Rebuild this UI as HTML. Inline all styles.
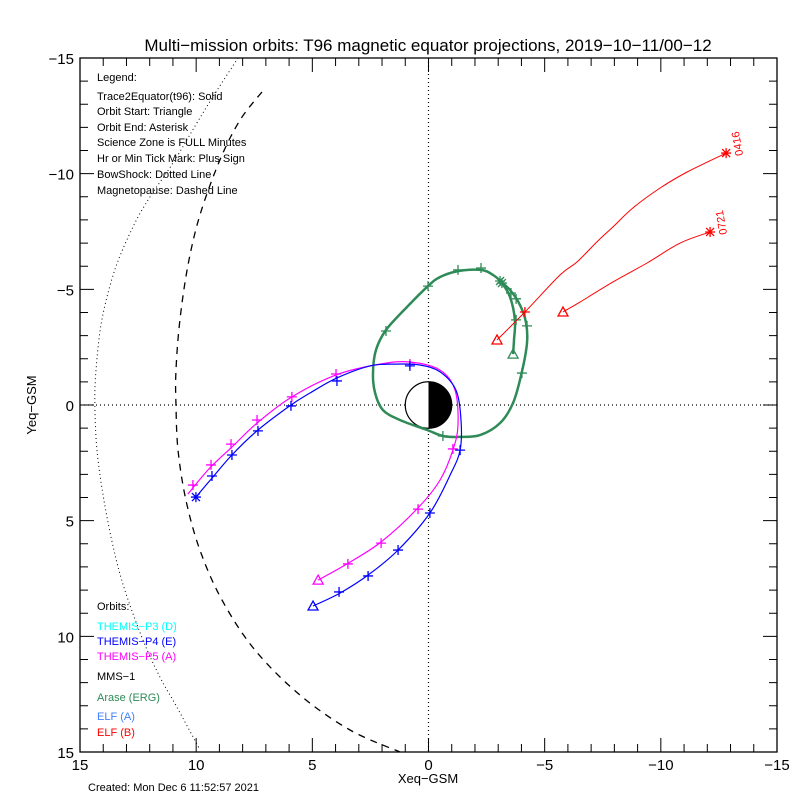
<!DOCTYPE html>
<html><head><meta charset="utf-8"><style>
body{margin:0;background:#fff}
svg text{font-family:"Liberation Sans",sans-serif}
</style></head><body>
<svg id="c" width="800" height="800" viewBox="0 0 800 800" xmlns="http://www.w3.org/2000/svg">
<rect width="800" height="800" fill="#fff"/>
<text x="428" y="51" font-size="17" text-anchor="middle">Multi−mission orbits: T96 magnetic equator projections, 2019−10−11/00−12</text>
<text x="428" y="783" font-size="13" text-anchor="middle">Xeq−GSM</text>
<text x="36" y="405" font-size="13" text-anchor="middle" transform="rotate(-90 36 405)">Yeq−GSM</text>
<text x="88" y="791" font-size="11">Created: Mon Dec  6 11:52:57 2021</text>
<g id="axes"></g>
<g id="marks"></g>
<g font-size="11">
<text x="97" y="81">Legend:</text>
<text x="97" y="100">Trace2Equator(t96): Solid</text>
<text x="97" y="115">Orbit Start: Triangle</text>
<text x="97" y="131">Orbit End: Asterisk</text>
<text x="97" y="146">Science Zone is FULL Minutes</text>
<text x="97" y="162">Hr or Min Tick Mark: Plus Sign</text>
<text x="97" y="178">BowShock: Dotted Line</text>
<text x="97" y="194">Magnetopause: Dashed Line</text>
</g>
<g font-size="11">
<text x="97" y="610">Orbits:</text>
<text x="97" y="630" fill="#00ffff">THEMIS−P3 (D)</text>
<text x="97" y="645" fill="#0000ff">THEMIS−P4 (E)</text>
<text x="97" y="660" fill="#ff00ff">THEMIS−P5 (A)</text>
<text x="97" y="680" fill="#000">MMS−1</text>
<text x="97" y="701" fill="#2e8b57">Arase (ERG)</text>
<text x="97" y="720" fill="#4080ff">ELF (A)</text>
<text x="97" y="736" fill="#ff0000">ELF (B)</text>
</g>
</svg>
<script>
const xTicks=[15,10,5,0,-5,-10,-15];
const yTicks=[-15,-10,-5,0,5,10,15];
const bowX=[8.20,9.28,9.97,11.0,11.99,12.72,13.50,14.06,14.31,14.36,14.27,13.97,13.54,13.07,12.29,11.56,10.83,9.84];
const bowY=[-15.0,-13.32,-12.19,-10.46,-8.99,-7.70,-5.84,-3.67,-1.51,0,1.95,4.11,6.27,8.0,10.16,11.76,13.06,14.9];
const mpX=[7.17,8.11,8.98,9.84,10.35,10.70,10.87,10.87,10.78,10.44,9.84,8.89,7.47,5.53,3.38,1.23];
const mpY=[-13.53,-12.32,-10.59,-8.21,-6.05,-3.67,-1.51,0,1.95,4.11,6.27,8.43,10.59,12.54,14.05,15.0];
const p4X=[4.97,3.81,2.60,1.31,-0.06,-0.93,-1.36,-1.40,-1.18,-0.50,0.37,1.44,2.52,3.94,5.10,5.92,7.34,8.46,9.32,10.01];
const p4Y=[8.69,8.13,7.35,6.27,4.67,3.03,1.95,0.65,-0.65,-1.43,-1.73,-1.77,-1.69,-1.17,-0.52,0,1.08,2.16,3.16,3.98];
const p4TX=[3.85,2.60,1.31,-0.06,-1.36,0.80,3.94,5.92,7.34,8.46,9.32];
const p4TY=[8.08,7.39,6.27,4.67,1.95,-1.69,-1.04,0.04,1.12,2.16,3.07];
const p5X=[4.75,3.51,2.04,0.45,-0.50,-1.05,-1.27,-1.14,-0.50,0.80,2.09,3.98,5.96,7.47,8.46,9.41,10.36];
const p5Y=[7.57,6.87,5.92,4.45,3.24,1.95,0.86,-0.65,-1.51,-1.86,-1.77,-1.30,-0.30,0.86,1.82,2.72,3.85];
const p5TX=[3.47,2.04,0.45,-1.05,0.80,3.98,5.88,7.38,8.50,9.36,10.14];
const p5TY=[6.87,5.97,4.50,1.90,-1.77,-1.34,-0.35,0.65,1.69,2.59,3.46];
const erX=[-3.64,-3.68,-3.72,-3.51,-3.16,-2.78,-2.26,-1.27,-0.49,0.02,0.92,1.83,2.26,2.39,2.30,1.96,1.23,0.06,-0.62,-1.36,-2.22,-3.08,-3.64,-4.02,-4.24,-4.20,-3.94,-3.51,-3.08];
const erY=[-2.20,-2.81,-3.67,-4.67,-5.27,-5.62,-5.84,-5.79,-5.53,-5.14,-4.24,-3.24,-2.38,-1.38,-0.52,0.22,0.65,1.08,1.34,1.38,1.30,0.78,-0.09,-1.43,-2.68,-3.55,-4.32,-4.97,-5.36];
const erTX=[-1.27,-2.26,0.02,1.83,-0.62,-3.77,-3.77,-4.24,-4.02,-3.55];
const erTY=[-5.84,-5.92,-5.14,-3.20,1.34,-4.59,-3.68,-3.42,-1.38,-4.84];
const eb1X=[-2.95,-4.15,-5.66,-6.39,-7.25,-7.94,-8.80,-9.97,-11.13,-12.81];
const eb1Y=[-2.81,-4.02,-5.62,-6.18,-7.05,-7.70,-8.52,-9.38,-10.07,-10.89];
const eb2X=[-5.79,-6.52,-7.94,-9.41,-10.83,-12.12];
const eb2Y=[-4.02,-4.45,-5.32,-6.14,-7.00,-7.48];
const ebTX=[-4.15];const ebTY=[-4.02];
const ebLabels=["0416","0721"];

const L=80,R=777,T=58,B=752;
const sx=v=>L+(15-v)*(R-L)/30;
const sy=v=>T+(v+15)*(B-T)/30;
const NS="http://www.w3.org/2000/svg";
function mk(tag,attrs,parent){const e=document.createElementNS(NS,tag);for(const k in attrs)e.setAttribute(k,attrs[k]);parent.appendChild(e);return e;}
const ax=document.getElementById('axes'),mg=document.getElementById('marks');
let r=mk('rect',{x:L,y:T,width:R-L,height:B-T,fill:'none',stroke:'#000','stroke-width':1.3},ax);


for(let v=-15;v<=15;v++){
  const len=(v%5===0)?14:8;
  let t=mk('path',{d:`M${sx(v)},${B}V${B-len}M${sx(v)},${T}V${T+len}M${L},${sy(v)}H${L+len}M${R},${sy(v)}H${R-len}`,stroke:'#000','stroke-width':1},ax);
  
  
}
xTicks.forEach(v=>{let t=mk('text',{x:sx(v),y:B+18,'font-size':15,'text-anchor':'middle'},ax);t.textContent=v<0?'−'+(-v):String(v);
  
  });
yTicks.forEach(v=>{let t=mk('text',{x:L-6,y:sy(v)+6,'font-size':15,'text-anchor':'end'},ax);t.textContent=v<0?'−'+(-v):String(v);
  
  });
let z=mk('path',{d:`M${sx(0)},${T}V${B}M${L},${sy(0)}H${R}`,stroke:'#000','stroke-dasharray':'1 3','stroke-width':1.2},mg);


function smooth(xs,ys){
  const P=xs.map((x,i)=>[sx(x),sy(ys[i])]);
  let d='M'+P[0][0].toFixed(1)+','+P[0][1].toFixed(1);
  for(let i=0;i<P.length-1;i++){
    const p0=P[Math.max(0,i-1)],p1=P[i],p2=P[i+1],p3=P[Math.min(P.length-1,i+2)];
    const c1=[p1[0]+(p2[0]-p0[0])/6,p1[1]+(p2[1]-p0[1])/6];
    const c2=[p2[0]-(p3[0]-p1[0])/6,p2[1]-(p3[1]-p1[1])/6];
    d+=`C${c1[0].toFixed(1)},${c1[1].toFixed(1)} ${c2[0].toFixed(1)},${c2[1].toFixed(1)} ${p2[0].toFixed(1)},${p2[1].toFixed(1)}`;
  }
  return d;
}
function line(xs,ys,color,w,dash,name){
  const a={d:smooth(xs,ys),fill:'none',stroke:color,'stroke-width':w};if(dash)a['stroke-dasharray']=dash;
  const p=mk('path',a,mg);
  
  
}
function plus(xs,ys,color,name){xs.forEach((x,i)=>{const X=sx(x),Y=sy(ys[i]);
  const p=mk('path',{d:`M${X-5},${Y}H${X+5}M${X},${Y-5}V${Y+5}`,stroke:color,'stroke-width':1.3},mg);
  
  });}
function tri(x,y,color,name){const X=sx(x),Y=sy(y);
  const p=mk('path',{d:`M${X-5},${Y+4}L${X},${Y-5}L${X+5},${Y+4}Z`,fill:'none',stroke:color,'stroke-width':1.3},mg);
  
  }
function star(x,y,color,name){const X=sx(x),Y=sy(y);
  const p=mk('path',{d:`M${X-5},${Y}H${X+5}M${X},${Y-5}V${Y+5}M${X-4},${Y-4}L${X+4},${Y+4}M${X-4},${Y+4}L${X+4},${Y-4}`,stroke:color,'stroke-width':1.3},mg);
  
  }
line(bowX,bowY,'#000',1,'1 3','bow-shock');
line(mpX,mpY,'#000',1.3,'7 6','magnetopause');
const ex=sx(0),ey=sy(0),er=sx(0)-sx(1);
let e1=mk('circle',{cx:ex,cy:ey,r:er,fill:'#fff',stroke:'#000','stroke-width':1.2},mg);


let e2=mk('path',{d:`M${ex},${ey-er}A${er},${er} 0 0 1 ${ex},${ey+er}Z`,fill:'#000'},mg);


line(erX,erY,'#2e8b57',2.5,null,'arase-orbit');
plus(erTX,erTY,'#2e8b57','arase-tick');
tri(erX[0],erY[0],'#2e8b57','arase-start');
star(erX[erX.length-1],erY[erY.length-1],'#2e8b57','arase-end');
star(-3.16,-5.27,'#2e8b57','arase-end');
line(p5X,p5Y,'#ff00ff',1.2,null,'themis-p5-orbit');
plus(p5TX,p5TY,'#ff00ff','themis-p5-tick');
tri(p5X[0],p5Y[0],'#ff00ff','themis-p5-start');
line(p4X,p4Y,'#0000ff',1.2,null,'themis-p4-orbit');
plus(p4TX,p4TY,'#0000ff','themis-p4-tick');
tri(p4X[0],p4Y[0],'#0000ff','themis-p4-start');
star(p4X[p4X.length-1],p4Y[p4Y.length-1],'#0000ff','themis-p4-end');
line(eb1X,eb1Y,'#ff0000',1,null,'elf-b-track-1');
line(eb2X,eb2Y,'#ff0000',1,null,'elf-b-track-2');
plus(ebTX,ebTY,'#ff0000','elf-b-tick');
tri(eb1X[0],eb1Y[0],'#ff0000','elf-b-start-1');
tri(eb2X[0],eb2Y[0],'#ff0000','elf-b-start-2');
star(eb1X[eb1X.length-1],eb1Y[eb1Y.length-1],'#ff0000','elf-b-end-1');
star(eb2X[eb2X.length-1],eb2Y[eb2Y.length-1],'#ff0000','elf-b-end-2');
[[eb1X,eb1Y],[eb2X,eb2Y]].forEach((s,i)=>{const X=sx(s[0][s[0].length-1])+17,Y=sy(s[1][s[1].length-1])+2;
  const t=mk('text',{x:X,y:Y,'font-size':11,fill:'#ff0000',transform:`rotate(-100 ${X} ${Y})`},mg);t.textContent=ebLabels[i];
  
  });
</script>
</body></html>
